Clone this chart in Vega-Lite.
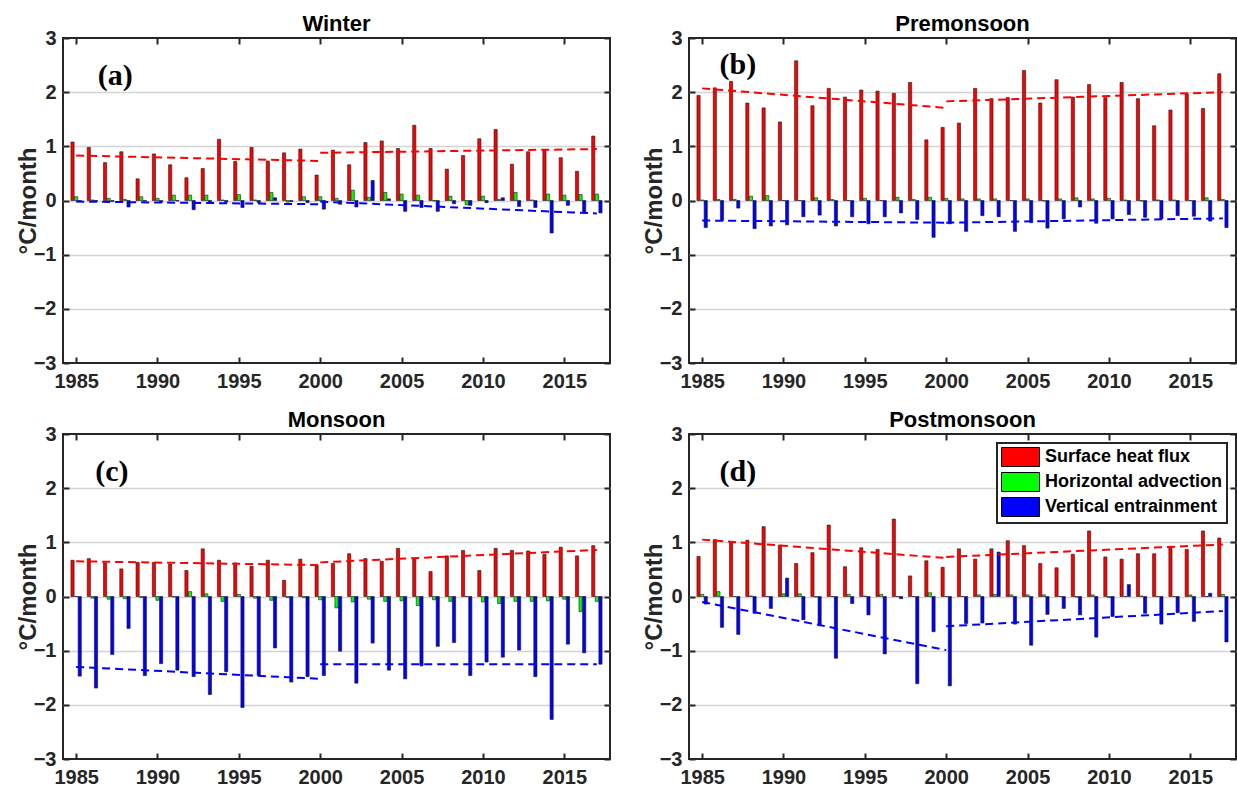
{
  "$schema": "https://vega.github.io/schema/vega-lite/v6.json",
  "background": "white",
  "padding": {"left": 15, "top": 12, "right": 2, "bottom": 2},
  "bounds": "flush",
  "columns": 2,
  "spacing": {"row": 71, "column": 79},
  "resolve": {"scale": {"color": "independent"}, "legend": {"color": "independent"}},
  "datasets": {
    "bars": [
      {"p":"a","year":1985,"shf":1.08,"ha":0.07,"ve":-0.02},{"p":"a","year":1986,"shf":0.98,"ha":0.01,"ve":-0.01},{"p":"a","year":1987,"shf":0.70,"ha":0.04,"ve":-0.02},{"p":"a","year":1988,"shf":0.90,"ha":0.02,"ve":-0.12},{"p":"a","year":1989,"shf":0.40,"ha":0.07,"ve":-0.01},{"p":"a","year":1990,"shf":0.86,"ha":0.04,"ve":-0.03},{"p":"a","year":1991,"shf":0.66,"ha":0.10,"ve":-0.01},{"p":"a","year":1992,"shf":0.42,"ha":0.10,"ve":-0.17},{"p":"a","year":1993,"shf":0.59,"ha":0.10,"ve":-0.05},{"p":"a","year":1994,"shf":1.13,"ha":0.01,"ve":-0.03},{"p":"a","year":1995,"shf":0.72,"ha":0.11,"ve":-0.13},{"p":"a","year":1996,"shf":0.98,"ha":0.01,"ve":-0.04},{"p":"a","year":1997,"shf":0.73,"ha":0.15,"ve":0.05},{"p":"a","year":1998,"shf":0.88,"ha":-0.03,"ve":-0.02},{"p":"a","year":1999,"shf":0.95,"ha":0.07,"ve":-0.04},{"p":"a","year":2000,"shf":0.47,"ha":0.07,"ve":-0.16},{"p":"a","year":2001,"shf":0.93,"ha":0.04,"ve":-0.07},{"p":"a","year":2002,"shf":0.66,"ha":0.19,"ve":-0.12},{"p":"a","year":2003,"shf":1.07,"ha":0.06,"ve":0.37},{"p":"a","year":2004,"shf":1.10,"ha":0.15,"ve":0.03},{"p":"a","year":2005,"shf":0.96,"ha":0.12,"ve":-0.20},{"p":"a","year":2006,"shf":1.39,"ha":0.10,"ve":-0.13},{"p":"a","year":2007,"shf":0.96,"ha":-0.01,"ve":-0.20},{"p":"a","year":2008,"shf":0.58,"ha":0.08,"ve":-0.06},{"p":"a","year":2009,"shf":0.83,"ha":-0.08,"ve":-0.09},{"p":"a","year":2010,"shf":1.14,"ha":0.08,"ve":-0.04},{"p":"a","year":2011,"shf":1.31,"ha":0.02,"ve":0.05},{"p":"a","year":2012,"shf":0.67,"ha":0.15,"ve":-0.11},{"p":"a","year":2013,"shf":0.90,"ha":0.01,"ve":-0.13},{"p":"a","year":2014,"shf":0.93,"ha":0.12,"ve":-0.60},{"p":"a","year":2015,"shf":0.79,"ha":0.10,"ve":-0.09},{"p":"a","year":2016,"shf":0.54,"ha":0.11,"ve":-0.23},{"p":"a","year":2017,"shf":1.19,"ha":0.12,"ve":-0.23},
      {"p":"b","year":1985,"shf":1.94,"ha":0.01,"ve":-0.50},{"p":"b","year":1986,"shf":2.08,"ha":0.02,"ve":-0.37},{"p":"b","year":1987,"shf":2.20,"ha":0.02,"ve":-0.14},{"p":"b","year":1988,"shf":1.80,"ha":0.08,"ve":-0.52},{"p":"b","year":1989,"shf":1.71,"ha":0.09,"ve":-0.47},{"p":"b","year":1990,"shf":1.45,"ha":0.00,"ve":-0.45},{"p":"b","year":1991,"shf":2.58,"ha":0.00,"ve":-0.30},{"p":"b","year":1992,"shf":1.75,"ha":0.05,"ve":-0.27},{"p":"b","year":1993,"shf":2.07,"ha":0.02,"ve":-0.47},{"p":"b","year":1994,"shf":1.91,"ha":0.00,"ve":-0.30},{"p":"b","year":1995,"shf":2.04,"ha":0.04,"ve":-0.43},{"p":"b","year":1996,"shf":2.02,"ha":0.00,"ve":-0.30},{"p":"b","year":1997,"shf":1.98,"ha":0.06,"ve":-0.23},{"p":"b","year":1998,"shf":2.18,"ha":0.02,"ve":-0.35},{"p":"b","year":1999,"shf":1.12,"ha":0.06,"ve":-0.68},{"p":"b","year":2000,"shf":1.35,"ha":0.04,"ve":-0.43},{"p":"b","year":2001,"shf":1.43,"ha":0.03,"ve":-0.57},{"p":"b","year":2002,"shf":2.07,"ha":0.03,"ve":-0.28},{"p":"b","year":2003,"shf":1.88,"ha":0.03,"ve":-0.30},{"p":"b","year":2004,"shf":1.90,"ha":0.00,"ve":-0.57},{"p":"b","year":2005,"shf":2.40,"ha":0.03,"ve":-0.41},{"p":"b","year":2006,"shf":1.80,"ha":-0.01,"ve":-0.51},{"p":"b","year":2007,"shf":2.23,"ha":0.03,"ve":-0.34},{"p":"b","year":2008,"shf":1.91,"ha":0.05,"ve":-0.12},{"p":"b","year":2009,"shf":2.14,"ha":0.03,"ve":-0.42},{"p":"b","year":2010,"shf":1.90,"ha":0.04,"ve":-0.34},{"p":"b","year":2011,"shf":2.18,"ha":0.01,"ve":-0.26},{"p":"b","year":2012,"shf":1.88,"ha":-0.01,"ve":-0.31},{"p":"b","year":2013,"shf":1.38,"ha":0.01,"ve":-0.34},{"p":"b","year":2014,"shf":1.67,"ha":0.01,"ve":-0.28},{"p":"b","year":2015,"shf":1.97,"ha":0.00,"ve":-0.29},{"p":"b","year":2016,"shf":1.70,"ha":0.05,"ve":-0.38},{"p":"b","year":2017,"shf":2.34,"ha":0.02,"ve":-0.50},
      {"p":"c","year":1985,"shf":0.67,"ha":0.00,"ve":-1.47},{"p":"c","year":1986,"shf":0.70,"ha":-0.03,"ve":-1.69},{"p":"c","year":1987,"shf":0.62,"ha":-0.05,"ve":-1.07},{"p":"c","year":1988,"shf":0.51,"ha":-0.04,"ve":-0.59},{"p":"c","year":1989,"shf":0.63,"ha":-0.02,"ve":-1.46},{"p":"c","year":1990,"shf":0.63,"ha":-0.07,"ve":-1.24},{"p":"c","year":1991,"shf":0.60,"ha":-0.01,"ve":-1.36},{"p":"c","year":1992,"shf":0.48,"ha":0.09,"ve":-1.48},{"p":"c","year":1993,"shf":0.88,"ha":0.05,"ve":-1.81},{"p":"c","year":1994,"shf":0.67,"ha":-0.09,"ve":-1.39},{"p":"c","year":1995,"shf":0.62,"ha":0.04,"ve":-2.05},{"p":"c","year":1996,"shf":0.56,"ha":-0.03,"ve":-1.46},{"p":"c","year":1997,"shf":0.67,"ha":-0.07,"ve":-0.95},{"p":"c","year":1998,"shf":0.30,"ha":-0.02,"ve":-1.58},{"p":"c","year":1999,"shf":0.69,"ha":-0.02,"ve":-1.48},{"p":"c","year":2000,"shf":0.57,"ha":-0.06,"ve":-1.46},{"p":"c","year":2001,"shf":0.61,"ha":-0.21,"ve":-1.01},{"p":"c","year":2002,"shf":0.79,"ha":-0.10,"ve":-1.60},{"p":"c","year":2003,"shf":0.70,"ha":-0.05,"ve":-0.86},{"p":"c","year":2004,"shf":0.65,"ha":-0.09,"ve":-1.36},{"p":"c","year":2005,"shf":0.89,"ha":-0.08,"ve":-1.52},{"p":"c","year":2006,"shf":0.70,"ha":-0.17,"ve":-1.28},{"p":"c","year":2007,"shf":0.46,"ha":-0.06,"ve":-0.92},{"p":"c","year":2008,"shf":0.75,"ha":-0.09,"ve":-0.85},{"p":"c","year":2009,"shf":0.85,"ha":0.00,"ve":-1.46},{"p":"c","year":2010,"shf":0.48,"ha":-0.10,"ve":-1.21},{"p":"c","year":2011,"shf":0.89,"ha":-0.13,"ve":-1.12},{"p":"c","year":2012,"shf":0.85,"ha":-0.09,"ve":-0.99},{"p":"c","year":2013,"shf":0.84,"ha":-0.09,"ve":-1.48},{"p":"c","year":2014,"shf":0.78,"ha":-0.08,"ve":-2.27},{"p":"c","year":2015,"shf":0.91,"ha":-0.05,"ve":-0.88},{"p":"c","year":2016,"shf":0.75,"ha":-0.28,"ve":-1.04},{"p":"c","year":2017,"shf":0.94,"ha":-0.09,"ve":-1.25},
      {"p":"d","year":1985,"shf":0.74,"ha":0.04,"ve":-0.14},{"p":"d","year":1986,"shf":1.05,"ha":0.09,"ve":-0.57},{"p":"d","year":1987,"shf":1.00,"ha":0.00,"ve":-0.70},{"p":"d","year":1988,"shf":1.04,"ha":0.01,"ve":-0.31},{"p":"d","year":1989,"shf":1.29,"ha":0.00,"ve":-0.22},{"p":"d","year":1990,"shf":0.95,"ha":0.05,"ve":0.34},{"p":"d","year":1991,"shf":0.61,"ha":0.05,"ve":-0.43},{"p":"d","year":1992,"shf":0.81,"ha":-0.01,"ve":-0.54},{"p":"d","year":1993,"shf":1.32,"ha":0.00,"ve":-1.14},{"p":"d","year":1994,"shf":0.55,"ha":0.04,"ve":-0.13},{"p":"d","year":1995,"shf":0.90,"ha":0.01,"ve":-0.34},{"p":"d","year":1996,"shf":0.87,"ha":0.04,"ve":-1.06},{"p":"d","year":1997,"shf":1.43,"ha":0.00,"ve":-0.04},{"p":"d","year":1998,"shf":0.38,"ha":0.00,"ve":-1.61},{"p":"d","year":1999,"shf":0.66,"ha":0.07,"ve":-0.65},{"p":"d","year":2000,"shf":0.54,"ha":0.00,"ve":-1.65},{"p":"d","year":2001,"shf":0.88,"ha":0.00,"ve":-0.50},{"p":"d","year":2002,"shf":0.69,"ha":0.03,"ve":-0.49},{"p":"d","year":2003,"shf":0.88,"ha":0.04,"ve":0.82},{"p":"d","year":2004,"shf":1.03,"ha":0.03,"ve":-0.51},{"p":"d","year":2005,"shf":0.94,"ha":0.03,"ve":-0.90},{"p":"d","year":2006,"shf":0.61,"ha":0.03,"ve":-0.33},{"p":"d","year":2007,"shf":0.53,"ha":0.00,"ve":-0.22},{"p":"d","year":2008,"shf":0.78,"ha":-0.01,"ve":-0.34},{"p":"d","year":2009,"shf":1.21,"ha":0.03,"ve":-0.75},{"p":"d","year":2010,"shf":0.73,"ha":-0.02,"ve":-0.37},{"p":"d","year":2011,"shf":0.69,"ha":0.00,"ve":0.22},{"p":"d","year":2012,"shf":0.79,"ha":0.01,"ve":-0.31},{"p":"d","year":2013,"shf":0.79,"ha":0.00,"ve":-0.51},{"p":"d","year":2014,"shf":0.92,"ha":0.00,"ve":-0.30},{"p":"d","year":2015,"shf":0.87,"ha":0.03,"ve":-0.46},{"p":"d","year":2016,"shf":1.21,"ha":0.00,"ve":0.06},{"p":"d","year":2017,"shf":1.08,"ha":0.04,"ve":-0.84}
    ],
    "trend": [
      {"p":"a","s":"shf","seg":1,"year":1985,"v":0.83},{"p":"a","s":"shf","seg":1,"year":2000,"v":0.73},{"p":"a","s":"shf","seg":2,"year":2000,"v":0.88},{"p":"a","s":"shf","seg":2,"year":2017,"v":0.95},
      {"p":"a","s":"ve","seg":1,"year":1985,"v":-0.02},{"p":"a","s":"ve","seg":1,"year":2000,"v":-0.07},{"p":"a","s":"ve","seg":2,"year":2000,"v":-0.02},{"p":"a","s":"ve","seg":2,"year":2017,"v":-0.24},
      {"p":"b","s":"shf","seg":1,"year":1985,"v":2.07},{"p":"b","s":"shf","seg":1,"year":2000,"v":1.71},{"p":"b","s":"shf","seg":2,"year":2000,"v":1.83},{"p":"b","s":"shf","seg":2,"year":2017,"v":2.00},
      {"p":"b","s":"ve","seg":1,"year":1985,"v":-0.37},{"p":"b","s":"ve","seg":1,"year":2000,"v":-0.41},{"p":"b","s":"ve","seg":2,"year":2000,"v":-0.41},{"p":"b","s":"ve","seg":2,"year":2017,"v":-0.33},
      {"p":"c","s":"shf","seg":1,"year":1985,"v":0.65},{"p":"c","s":"shf","seg":1,"year":2000,"v":0.58},{"p":"c","s":"shf","seg":2,"year":2000,"v":0.63},{"p":"c","s":"shf","seg":2,"year":2017,"v":0.86},
      {"p":"c","s":"ve","seg":1,"year":1985,"v":-1.30},{"p":"c","s":"ve","seg":1,"year":2000,"v":-1.52},{"p":"c","s":"ve","seg":2,"year":2000,"v":-1.25},{"p":"c","s":"ve","seg":2,"year":2017,"v":-1.25},
      {"p":"d","s":"shf","seg":1,"year":1985,"v":1.05},{"p":"d","s":"shf","seg":1,"year":2000,"v":0.71},{"p":"d","s":"shf","seg":2,"year":2000,"v":0.73},{"p":"d","s":"shf","seg":2,"year":2017,"v":0.96},
      {"p":"d","s":"ve","seg":1,"year":1985,"v":-0.10},{"p":"d","s":"ve","seg":1,"year":2000,"v":-0.99},{"p":"d","s":"ve","seg":2,"year":2000,"v":-0.55},{"p":"d","s":"ve","seg":2,"year":2017,"v":-0.27}
    ],
    "labels": [
      {"p":"a","label":"(a)","year":1987.4,"v":2.3},
      {"p":"b","label":"(b)","year":1987.2,"v":2.5},
      {"p":"c","label":"(c)","year":1987.2,"v":2.3},
      {"p":"d","label":"(d)","year":1987.2,"v":2.3}
    ]
  },
  "concat": [
    {
      "title": "Winter", "width": 547, "height": 325,
      "resolve": {"axis": {"x": "independent", "y": "independent"}},
      "layer": [
        {"data": {"name": "bars"}, "transform": [{"filter": "datum.p == 'a'"}],
         "mark": {"type": "bar", "width": 3.2, "xOffset": -3.6, "color": "#ff0000", "stroke": "#1a1a1a", "strokeWidth": 0.6},
         "encoding": {
           "x": {"field": "year", "type": "quantitative", "scale": {"domain": [1984.5, 2017.5], "nice": false, "zero": false}, "axis": {"orient": "bottom", "values": [1985,1990,1995,2000,2005,2010,2015], "format": "d", "title": null, "grid": true, "labelFlush": false}},
           "y": {"field": "shf", "type": "quantitative", "scale": {"domain": [-3, 3], "nice": false}, "axis": {"orient": "left", "values": [-3,-2,-1,0,1,2,3], "title": "°C/month", "grid": true}}}},
        {"data": {"name": "bars"}, "transform": [{"filter": "datum.p == 'a'"}],
         "mark": {"type": "bar", "width": 3.2, "xOffset": 0, "color": "#00ff00", "stroke": "#1a1a1a", "strokeWidth": 0.6},
         "encoding": {
           "x": {"field": "year", "type": "quantitative", "scale": {"domain": [1984.5, 2017.5], "nice": false, "zero": false}, "axis": null},
           "y": {"field": "ha", "type": "quantitative", "scale": {"domain": [-3, 3], "nice": false}, "axis": null}}},
        {"data": {"name": "bars"}, "transform": [{"filter": "datum.p == 'a'"}],
         "mark": {"type": "bar", "width": 3.2, "xOffset": 3.6, "color": "#0000ff", "stroke": "#1a1a1a", "strokeWidth": 0.6},
         "encoding": {
           "x": {"field": "year", "type": "quantitative", "scale": {"domain": [1984.5, 2017.5], "nice": false, "zero": false}, "axis": null},
           "y": {"field": "ve", "type": "quantitative", "scale": {"domain": [-3, 3], "nice": false}, "axis": null}}},
        {"data": {"name": "trend"}, "transform": [{"filter": "datum.p == 'a' && datum.s == 'shf'"}],
         "mark": {"type": "line", "color": "#ff0000", "strokeDash": [8, 5], "strokeWidth": 2},
         "encoding": {
           "x": {"field": "year", "type": "quantitative", "scale": {"domain": [1984.5, 2017.5], "nice": false, "zero": false}, "axis": {"orient": "top", "values": [1985,1990,1995,2000,2005,2010,2015], "labels": false, "grid": false, "title": null}},
           "y": {"field": "v", "type": "quantitative", "scale": {"domain": [-3, 3], "nice": false}, "axis": {"orient": "right", "values": [-3,-2,-1,0,1,2,3], "labels": false, "grid": false, "title": null}},
           "detail": {"field": "seg", "type": "nominal"}}},
        {"data": {"name": "trend"}, "transform": [{"filter": "datum.p == 'a' && datum.s == 've'"}],
         "mark": {"type": "line", "color": "#0000ff", "strokeDash": [8, 5], "strokeWidth": 2},
         "encoding": {
           "x": {"field": "year", "type": "quantitative", "scale": {"domain": [1984.5, 2017.5], "nice": false, "zero": false}, "axis": null},
           "y": {"field": "v", "type": "quantitative", "scale": {"domain": [-3, 3], "nice": false}, "axis": null},
           "detail": {"field": "seg", "type": "nominal"}}},
        {"data": {"name": "labels"}, "transform": [{"filter": "datum.p == 'a'"}],
         "mark": {"type": "text", "font": "Liberation Serif", "fontWeight": "bold", "fontSize": 30, "align": "center", "baseline": "middle", "color": "#000000"},
         "encoding": {
           "x": {"field": "year", "type": "quantitative", "scale": {"domain": [1984.5, 2017.5], "nice": false, "zero": false}, "axis": null},
           "y": {"field": "v", "type": "quantitative", "scale": {"domain": [-3, 3], "nice": false}, "axis": null},
           "text": {"field": "label"}}}
      ]
    },
    {
      "title": "Premonsoon", "width": 547, "height": 325,
      "resolve": {"axis": {"x": "independent", "y": "independent"}},
      "layer": [
        {"data": {"name": "bars"}, "transform": [{"filter": "datum.p == 'b'"}],
         "mark": {"type": "bar", "width": 3.2, "xOffset": -3.6, "color": "#ff0000", "stroke": "#1a1a1a", "strokeWidth": 0.6},
         "encoding": {
           "x": {"field": "year", "type": "quantitative", "scale": {"domain": [1984.5, 2017.5], "nice": false, "zero": false}, "axis": {"orient": "bottom", "values": [1985,1990,1995,2000,2005,2010,2015], "format": "d", "title": null, "grid": true, "labelFlush": false}},
           "y": {"field": "shf", "type": "quantitative", "scale": {"domain": [-3, 3], "nice": false}, "axis": {"orient": "left", "values": [-3,-2,-1,0,1,2,3], "title": "°C/month", "grid": true}}}},
        {"data": {"name": "bars"}, "transform": [{"filter": "datum.p == 'b'"}],
         "mark": {"type": "bar", "width": 3.2, "xOffset": 0, "color": "#00ff00", "stroke": "#1a1a1a", "strokeWidth": 0.6},
         "encoding": {
           "x": {"field": "year", "type": "quantitative", "scale": {"domain": [1984.5, 2017.5], "nice": false, "zero": false}, "axis": null},
           "y": {"field": "ha", "type": "quantitative", "scale": {"domain": [-3, 3], "nice": false}, "axis": null}}},
        {"data": {"name": "bars"}, "transform": [{"filter": "datum.p == 'b'"}],
         "mark": {"type": "bar", "width": 3.2, "xOffset": 3.6, "color": "#0000ff", "stroke": "#1a1a1a", "strokeWidth": 0.6},
         "encoding": {
           "x": {"field": "year", "type": "quantitative", "scale": {"domain": [1984.5, 2017.5], "nice": false, "zero": false}, "axis": null},
           "y": {"field": "ve", "type": "quantitative", "scale": {"domain": [-3, 3], "nice": false}, "axis": null}}},
        {"data": {"name": "trend"}, "transform": [{"filter": "datum.p == 'b' && datum.s == 'shf'"}],
         "mark": {"type": "line", "color": "#ff0000", "strokeDash": [8, 5], "strokeWidth": 2},
         "encoding": {
           "x": {"field": "year", "type": "quantitative", "scale": {"domain": [1984.5, 2017.5], "nice": false, "zero": false}, "axis": {"orient": "top", "values": [1985,1990,1995,2000,2005,2010,2015], "labels": false, "grid": false, "title": null}},
           "y": {"field": "v", "type": "quantitative", "scale": {"domain": [-3, 3], "nice": false}, "axis": {"orient": "right", "values": [-3,-2,-1,0,1,2,3], "labels": false, "grid": false, "title": null}},
           "detail": {"field": "seg", "type": "nominal"}}},
        {"data": {"name": "trend"}, "transform": [{"filter": "datum.p == 'b' && datum.s == 've'"}],
         "mark": {"type": "line", "color": "#0000ff", "strokeDash": [8, 5], "strokeWidth": 2},
         "encoding": {
           "x": {"field": "year", "type": "quantitative", "scale": {"domain": [1984.5, 2017.5], "nice": false, "zero": false}, "axis": null},
           "y": {"field": "v", "type": "quantitative", "scale": {"domain": [-3, 3], "nice": false}, "axis": null},
           "detail": {"field": "seg", "type": "nominal"}}},
        {"data": {"name": "labels"}, "transform": [{"filter": "datum.p == 'b'"}],
         "mark": {"type": "text", "font": "Liberation Serif", "fontWeight": "bold", "fontSize": 30, "align": "center", "baseline": "middle", "color": "#000000"},
         "encoding": {
           "x": {"field": "year", "type": "quantitative", "scale": {"domain": [1984.5, 2017.5], "nice": false, "zero": false}, "axis": null},
           "y": {"field": "v", "type": "quantitative", "scale": {"domain": [-3, 3], "nice": false}, "axis": null},
           "text": {"field": "label"}}}
      ]
    },
    {
      "title": "Monsoon", "width": 547, "height": 325,
      "resolve": {"axis": {"x": "independent", "y": "independent"}},
      "layer": [
        {"data": {"name": "bars"}, "transform": [{"filter": "datum.p == 'c'"}],
         "mark": {"type": "bar", "width": 3.2, "xOffset": -3.6, "color": "#ff0000", "stroke": "#1a1a1a", "strokeWidth": 0.6},
         "encoding": {
           "x": {"field": "year", "type": "quantitative", "scale": {"domain": [1984.5, 2017.5], "nice": false, "zero": false}, "axis": {"orient": "bottom", "values": [1985,1990,1995,2000,2005,2010,2015], "format": "d", "title": null, "grid": true, "labelFlush": false}},
           "y": {"field": "shf", "type": "quantitative", "scale": {"domain": [-3, 3], "nice": false}, "axis": {"orient": "left", "values": [-3,-2,-1,0,1,2,3], "title": "°C/month", "grid": true}}}},
        {"data": {"name": "bars"}, "transform": [{"filter": "datum.p == 'c'"}],
         "mark": {"type": "bar", "width": 3.2, "xOffset": 0, "color": "#00ff00", "stroke": "#1a1a1a", "strokeWidth": 0.6},
         "encoding": {
           "x": {"field": "year", "type": "quantitative", "scale": {"domain": [1984.5, 2017.5], "nice": false, "zero": false}, "axis": null},
           "y": {"field": "ha", "type": "quantitative", "scale": {"domain": [-3, 3], "nice": false}, "axis": null}}},
        {"data": {"name": "bars"}, "transform": [{"filter": "datum.p == 'c'"}],
         "mark": {"type": "bar", "width": 3.2, "xOffset": 3.6, "color": "#0000ff", "stroke": "#1a1a1a", "strokeWidth": 0.6},
         "encoding": {
           "x": {"field": "year", "type": "quantitative", "scale": {"domain": [1984.5, 2017.5], "nice": false, "zero": false}, "axis": null},
           "y": {"field": "ve", "type": "quantitative", "scale": {"domain": [-3, 3], "nice": false}, "axis": null}}},
        {"data": {"name": "trend"}, "transform": [{"filter": "datum.p == 'c' && datum.s == 'shf'"}],
         "mark": {"type": "line", "color": "#ff0000", "strokeDash": [8, 5], "strokeWidth": 2},
         "encoding": {
           "x": {"field": "year", "type": "quantitative", "scale": {"domain": [1984.5, 2017.5], "nice": false, "zero": false}, "axis": {"orient": "top", "values": [1985,1990,1995,2000,2005,2010,2015], "labels": false, "grid": false, "title": null}},
           "y": {"field": "v", "type": "quantitative", "scale": {"domain": [-3, 3], "nice": false}, "axis": {"orient": "right", "values": [-3,-2,-1,0,1,2,3], "labels": false, "grid": false, "title": null}},
           "detail": {"field": "seg", "type": "nominal"}}},
        {"data": {"name": "trend"}, "transform": [{"filter": "datum.p == 'c' && datum.s == 've'"}],
         "mark": {"type": "line", "color": "#0000ff", "strokeDash": [8, 5], "strokeWidth": 2},
         "encoding": {
           "x": {"field": "year", "type": "quantitative", "scale": {"domain": [1984.5, 2017.5], "nice": false, "zero": false}, "axis": null},
           "y": {"field": "v", "type": "quantitative", "scale": {"domain": [-3, 3], "nice": false}, "axis": null},
           "detail": {"field": "seg", "type": "nominal"}}},
        {"data": {"name": "labels"}, "transform": [{"filter": "datum.p == 'c'"}],
         "mark": {"type": "text", "font": "Liberation Serif", "fontWeight": "bold", "fontSize": 30, "align": "center", "baseline": "middle", "color": "#000000"},
         "encoding": {
           "x": {"field": "year", "type": "quantitative", "scale": {"domain": [1984.5, 2017.5], "nice": false, "zero": false}, "axis": null},
           "y": {"field": "v", "type": "quantitative", "scale": {"domain": [-3, 3], "nice": false}, "axis": null},
           "text": {"field": "label"}}}
      ]
    },
    {
      "title": "Postmonsoon", "width": 547, "height": 325,
      "resolve": {"axis": {"x": "independent", "y": "independent"}},
      "layer": [
        {"data": {"name": "bars"}, "transform": [{"filter": "datum.p == 'd'"}],
         "mark": {"type": "bar", "width": 3.2, "xOffset": -3.6, "stroke": "#1a1a1a", "strokeWidth": 0.6},
         "encoding": {
           "x": {"field": "year", "type": "quantitative", "scale": {"domain": [1984.5, 2017.5], "nice": false, "zero": false}, "axis": {"orient": "bottom", "values": [1985,1990,1995,2000,2005,2010,2015], "format": "d", "title": null, "grid": true, "labelFlush": false}},
           "y": {"field": "shf", "type": "quantitative", "scale": {"domain": [-3, 3], "nice": false}, "axis": {"orient": "left", "values": [-3,-2,-1,0,1,2,3], "title": "°C/month", "grid": true}},
           "color": {"datum": "Surface heat flux", "type": "nominal", "scale": {"domain": ["Surface heat flux", "Horizontal advection", "Vertical entrainment"], "range": ["#ff0000", "#00ff00", "#0000ff"]}, "legend": {"title": null}}}},
        {"data": {"name": "bars"}, "transform": [{"filter": "datum.p == 'd'"}],
         "mark": {"type": "bar", "width": 3.2, "xOffset": 0, "stroke": "#1a1a1a", "strokeWidth": 0.6},
         "encoding": {
           "x": {"field": "year", "type": "quantitative", "scale": {"domain": [1984.5, 2017.5], "nice": false, "zero": false}, "axis": null},
           "y": {"field": "ha", "type": "quantitative", "scale": {"domain": [-3, 3], "nice": false}, "axis": null},
           "color": {"datum": "Horizontal advection", "type": "nominal", "scale": {"domain": ["Surface heat flux", "Horizontal advection", "Vertical entrainment"], "range": ["#ff0000", "#00ff00", "#0000ff"]}, "legend": {"title": null}}}},
        {"data": {"name": "bars"}, "transform": [{"filter": "datum.p == 'd'"}],
         "mark": {"type": "bar", "width": 3.2, "xOffset": 3.6, "stroke": "#1a1a1a", "strokeWidth": 0.6},
         "encoding": {
           "x": {"field": "year", "type": "quantitative", "scale": {"domain": [1984.5, 2017.5], "nice": false, "zero": false}, "axis": null},
           "y": {"field": "ve", "type": "quantitative", "scale": {"domain": [-3, 3], "nice": false}, "axis": null},
           "color": {"datum": "Vertical entrainment", "type": "nominal", "scale": {"domain": ["Surface heat flux", "Horizontal advection", "Vertical entrainment"], "range": ["#ff0000", "#00ff00", "#0000ff"]}, "legend": {"title": null}}}},
        {"data": {"name": "trend"}, "transform": [{"filter": "datum.p == 'd' && datum.s == 'shf'"}],
         "mark": {"type": "line", "color": "#ff0000", "strokeDash": [8, 5], "strokeWidth": 2},
         "encoding": {
           "x": {"field": "year", "type": "quantitative", "scale": {"domain": [1984.5, 2017.5], "nice": false, "zero": false}, "axis": {"orient": "top", "values": [1985,1990,1995,2000,2005,2010,2015], "labels": false, "grid": false, "title": null}},
           "y": {"field": "v", "type": "quantitative", "scale": {"domain": [-3, 3], "nice": false}, "axis": {"orient": "right", "values": [-3,-2,-1,0,1,2,3], "labels": false, "grid": false, "title": null}},
           "detail": {"field": "seg", "type": "nominal"}}},
        {"data": {"name": "trend"}, "transform": [{"filter": "datum.p == 'd' && datum.s == 've'"}],
         "mark": {"type": "line", "color": "#0000ff", "strokeDash": [8, 5], "strokeWidth": 2},
         "encoding": {
           "x": {"field": "year", "type": "quantitative", "scale": {"domain": [1984.5, 2017.5], "nice": false, "zero": false}, "axis": null},
           "y": {"field": "v", "type": "quantitative", "scale": {"domain": [-3, 3], "nice": false}, "axis": null},
           "detail": {"field": "seg", "type": "nominal"}}},
        {"data": {"name": "labels"}, "transform": [{"filter": "datum.p == 'd'"}],
         "mark": {"type": "text", "font": "Liberation Serif", "fontWeight": "bold", "fontSize": 30, "align": "center", "baseline": "middle", "color": "#000000"},
         "encoding": {
           "x": {"field": "year", "type": "quantitative", "scale": {"domain": [1984.5, 2017.5], "nice": false, "zero": false}, "axis": null},
           "y": {"field": "v", "type": "quantitative", "scale": {"domain": [-3, 3], "nice": false}, "axis": null},
           "text": {"field": "label"}}}
      ]
    }
  ],
  "config": {
    "view": {"stroke": "#262626", "strokeWidth": 2},
    "font": "Liberation Sans",
    "axis": {
      "domain": false,
      "labelFont": "Liberation Sans", "labelFontWeight": "bold", "labelFontSize": 20, "labelColor": "#262626",
      "tickColor": "#262626", "tickWidth": 2, "tickSize": -6,
      "gridColor": {"condition": {"test": "abs(datum.value) >= 3", "value": "transparent"}, "value": "#d4d4d4"},
      "gridWidth": 1.5,
      "titleFont": "Liberation Sans", "titleFontWeight": "bold", "titleFontSize": 24, "titleColor": "#262626"
    },
    "axisBottom": {"labelPadding": 14},
    "axisLeft": {"labelPadding": 13, "titlePadding": -7},
    "title": {"font": "Liberation Sans", "fontSize": 22, "fontWeight": "bold", "color": "#000000", "offset": -8, "anchor": "middle", "frame": "group"},
    "legend": {
      "orient": "top-right", "offset": 9, "fillColor": "white", "strokeColor": "#262626", "strokeWidth": 2, "padding": 4,
      "symbolType": "M-1,-1H3V1H-1Z", "symbolSize": 361, "symbolStrokeColor": "#000000", "symbolStrokeWidth": 1, "symbolOpacity": 1,
      "labelFont": "Liberation Sans", "labelFontWeight": "bold", "labelFontSize": 18, "labelColor": "#000000", "labelLimit": 400,
      "rowPadding": 1, "labelOffset": 24
    }
  }
}
